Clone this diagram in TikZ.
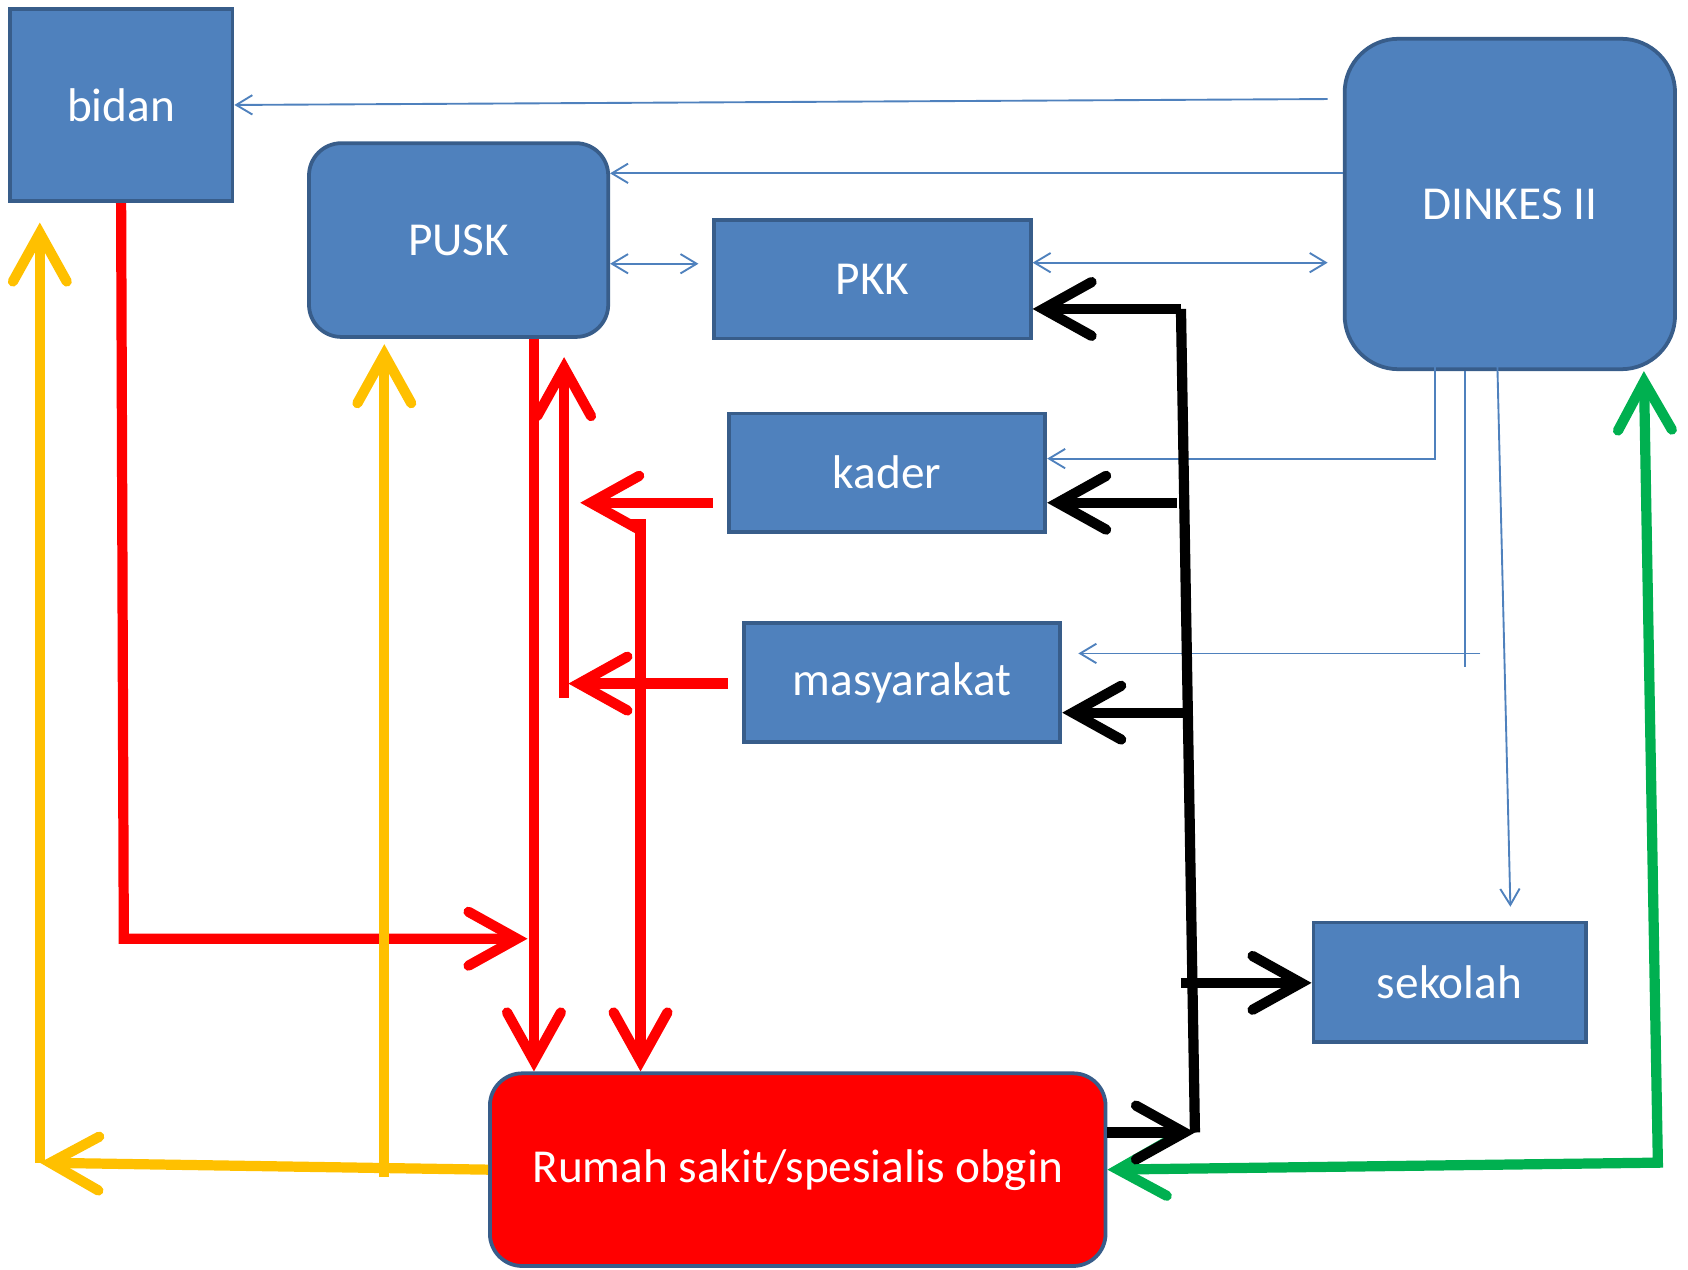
\documentclass[tikz,border=0pt]{standalone}
\usepackage{fontspec}
\setmainfont{Carlito}
\usetikzlibrary{arrows.meta}
\definecolor{BoxBlue}{HTML}{4F81BD}
\definecolor{BoxEdge}{HTML}{385D8A}
\definecolor{FlowGold}{HTML}{FFC000}
\definecolor{FlowGreen}{HTML}{00B050}

\begin{document}
\begin{tikzpicture}[x=0.02cm, y=-0.02cm, font=\fontsize{25}{30}\selectfont,
  Box/.style={fill=BoxBlue, draw=BoxEdge, line width=0.07cm, text=white, inner sep=0pt, minimum width=5.88cm, minimum height=2.2cm},
  RoundBox/.style={Box, rounded corners=0.6cm},
  Link/.style={BoxBlue, line width=0.035cm, >={Straight Barb[length=0.3cm, width=0.36cm]}},
  Flow/.style={line width=0.19cm, line join=miter, >={Straight Barb[length=0.9cm, width=1.0cm, line cap=round, line join=miter]}}]

\useasboundingbox (0,0) rectangle (1568,1179);

\node [Box, minimum width=4.14cm, minimum height=3.58cm] (bidan) at (112.5,97.5) {bidan};
\node [RoundBox, minimum width=5.56cm, minimum height=3.6cm] (pusk) at (426,223) {PUSK};
\node [RoundBox, rounded corners=1cm, minimum width=6.14cm, minimum height=6.14cm] (dinkes) at (1402.5,189.5) {DINKES II};

\foreach \x/\y/\name/\label in {810.5/259.5/pkk/PKK, 824/439/kader/kader, 838/634/masy/masyarakat} {
  \node [Box] (\name) at (\x,\y) {\label};
}

\node [Box, minimum width=5.06cm, minimum height=2.22cm] (sekolah) at (1346.5,912.5) {sekolah};
\node [RoundBox, fill=red, minimum width=11.44cm, minimum height=3.58cm] (rumah) at (741,1086.5) {Rumah sakit/spesialis obgin};

\coordinate (bidanbend) at (115,872);
\coordinate (puskin) at (490,872);
\coordinate (masyjoin) at (524,648);
\coordinate (kaderhit) at (539,467);
\coordinate (masyhit) at (528,635);
\coordinate (kaderbarb) at (586,487);
\coordinate (goldcorner) at (37,1080);
\coordinate (goldbase) at (357,1093);
\coordinate (greencorner) at (1540,1080);
\coordinate (blacktop) at (1097,287);
\coordinate (blackbot) at (1110,1052);
\coordinate (blackkader) at (1093,467);
\coordinate (blackmasy) at (1107,662);
\coordinate (blacksek) at (1097,913);
\coordinate (linkend) at (1361,620);
\coordinate (masyin) at (1375,607);

\draw [Link, ->] ([xshift=-0.28cm]dinkes.west |- 0,92) -- (bidan.east);
\draw [Link, ->] (dinkes.west |- 0,161) -- (pusk.east |- 0,161);
\draw [Link, <->] (pusk.east |- 0,245) -- ([xshift=-0.26cm]pkk.west |- 0,245);
\draw [Link, <->] (pkk.east |- 0,244) -- ([xshift=-0.28cm]dinkes.west |- 0,244);
\draw [Link, ->] ([yshift=0.56cm]dinkes.south -| 1333,0) |- (kader.east |- 0,426);
\draw [Link] (dinkes.south -| linkend) -- (linkend);
\draw [Link, ->] (masyin) -- ([xshift=0.3cm]masy.east |- masyin);
\draw [Link, <->] ([yshift=-0.56cm]dinkes.center -| 1388,0) -- ([yshift=0.26cm]sekolah.north -| 1403,0);

\draw [Flow, red, ->] (bidan.south) -- (bidanbend) -- (puskin);
\draw [Flow, red, ->] (pusk.south -| 496,0) -- (rumah.north -| 496,0);
\draw [Flow, red, ->] (masyjoin) -- ([yshift=-0.34cm]pusk.south -| masyjoin);
\draw [Flow, red, ->] ([xshift=-0.26cm]kader.west |- kaderhit) -- (kaderhit);
\draw [Flow, red, ->] ([xshift=-0.26cm]masy.west |- masyhit) -- (masyhit);
\draw [Flow, red, ->] (kaderbarb) -| (rumah.north -| 595,0);

\draw [Flow, FlowGold, ->] (rumah.west) -- (goldcorner);
\draw [Flow, FlowGold, ->] (goldcorner) -- ([yshift=-0.36cm]bidan.south -| goldcorner);
\draw [Flow, FlowGold, ->] (goldbase) -- ([yshift=-0.1cm]pusk.south -| goldbase);

\draw [Flow, FlowGreen, <->] (rumah.east) -- (greencorner) -- (dinkes.south -| 1527,0);

\draw [Flow] (blacktop) -- (blackbot);
\draw [Flow, ->] (blacktop) -- (pkk.east |- blacktop);
\draw [Flow, ->] (blackkader) -- (kader.east |- blackkader);
\draw [Flow, ->] (blackmasy) -- (masy.east |- blackmasy);
\draw [Flow, ->] (blacksek) -- (sekolah.west |- blacksek);
\draw [Flow, ->] (rumah.east |- blackbot) -- (blackbot);
\end{tikzpicture}
\end{document}
